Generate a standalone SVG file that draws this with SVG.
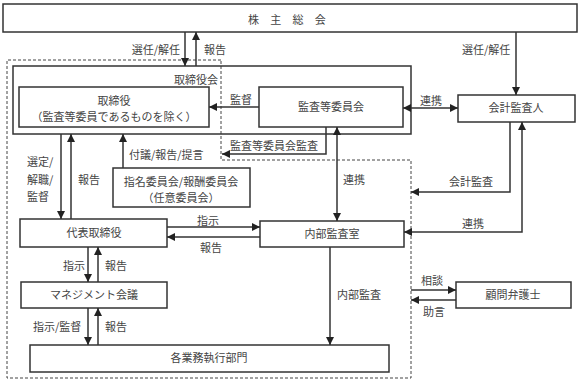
<svg xmlns="http://www.w3.org/2000/svg" width="582" height="385" viewBox="0 0 582 385">
<style>
.box{fill:#fff;stroke:#333;stroke-width:1.5}
.frame{fill:none;stroke:#333;stroke-width:1.5}
.dash{fill:none;stroke:#444;stroke-width:1;stroke-dasharray:3,2}
.ln{fill:none;stroke:#333;stroke-width:1.5}
text{font-family:"Noto Sans CJK JP","Liberation Sans",sans-serif;font-size:11px;fill:#444}
.m{text-anchor:middle}
.e{text-anchor:end}
</style>
<defs>
<marker id="ah" viewBox="0 0 8 8" refX="8" refY="4" markerWidth="8" markerHeight="8" markerUnits="userSpaceOnUse" orient="auto-start-reverse">
<path d="M0,0 L8,4 L0,8 z" fill="#222"/>
</marker>
</defs>
<rect width="582" height="385" fill="#fff"/>

<g id="outline">
<path class="dash" d="M221,60 L7,60 L7,378 L411,378 L411,160 L221,160 Z"/>
</g>

<g id="shareholders">
<rect class="box" x="3" y="4" width="574" height="28"/>
<text x="289" y="24" class="m" style="letter-spacing:4.4px" xml:space="preserve">株 主 総 会</text>
</g>

<g id="board">
<rect class="frame" x="13" y="66" width="398" height="68"/>
<text x="218" y="84" class="e">取締役会</text>
</g>

<g id="directors">
<rect class="box" x="19" y="87" width="190" height="40"/>
<text x="114" y="105" class="m">取締役</text>
<text x="114" y="121" class="m">（監査等委員であるものを除く）</text>
</g>

<g id="audit-committee">
<rect class="box" x="259" y="87" width="144" height="40"/>
<text x="331" y="111" class="m">監査等委員会</text>
</g>

<g id="accounting-auditor">
<rect class="box" x="458" y="95" width="117" height="27"/>
<text x="516" y="112" class="m">会計監査人</text>
</g>

<g id="committees">
<rect class="box" x="113" y="168" width="137" height="39"/>
<text x="181" y="186" class="m">指名委員会/報酬委員会</text>
<text x="181" y="202" class="m">（任意委員会）</text>
</g>

<g id="representative">
<rect class="box" x="20" y="219" width="147" height="28"/>
<text x="94" y="237" class="m">代表取締役</text>
</g>

<g id="internal-audit">
<rect class="box" x="260" y="221" width="144" height="26"/>
<text x="332" y="238" class="m">内部監査室</text>
</g>

<g id="management">
<rect class="box" x="21" y="282" width="146" height="26"/>
<text x="94" y="299" class="m">マネジメント会議</text>
</g>

<g id="divisions">
<rect class="box" x="30" y="345" width="359" height="27"/>
<text x="209" y="362" class="m">各業務執行部門</text>
</g>

<g id="lawyer">
<rect class="box" x="456" y="282" width="115" height="26"/>
<text x="513" y="299" class="m">顧問弁護士</text>
</g>

<g id="connectors">
<line class="ln" x1="185" y1="32" x2="185" y2="66" marker-end="url(#ah)"/>
<line class="ln" x1="196" y1="66" x2="196" y2="32" marker-end="url(#ah)"/>
<text x="180" y="54" class="e">選任/解任</text>
<text x="204" y="54">報告</text>

<line class="ln" x1="516" y1="32" x2="516" y2="95" marker-end="url(#ah)"/>
<text x="462" y="54">選任/解任</text>

<line class="ln" x1="259" y1="107" x2="209" y2="107" marker-end="url(#ah)"/>
<text x="230" y="104">監督</text>

<line class="ln" x1="403" y1="108" x2="458" y2="108" marker-start="url(#ah)" marker-end="url(#ah)"/>
<text x="431" y="105" class="m">連携</text>

<polyline class="ln" points="326,127 326,154 222,154" marker-end="url(#ah)"/>
<text x="230" y="150">監査等委員会監査</text>

<line class="ln" x1="337" y1="127" x2="337" y2="221" marker-start="url(#ah)" marker-end="url(#ah)"/>
<text x="343" y="184">連携</text>

<line class="ln" x1="123" y1="168" x2="123" y2="134" marker-end="url(#ah)"/>
<text x="129" y="159">付議/報告/提言</text>

<line class="ln" x1="61" y1="134" x2="61" y2="219" marker-end="url(#ah)"/>
<line class="ln" x1="71" y1="219" x2="71" y2="134" marker-end="url(#ah)"/>
<text x="27" y="166">選定/</text>
<text x="27" y="184">解職/</text>
<text x="27" y="201">監督</text>
<text x="78" y="184">報告</text>

<polyline class="ln" points="510,122 510,192 411,192" marker-end="url(#ah)"/>
<text x="471" y="186" class="m">会計監査</text>

<polyline class="ln" points="522,122 522,232 404,232" marker-start="url(#ah)" marker-end="url(#ah)"/>
<text x="473" y="228" class="m">連携</text>

<line class="ln" x1="167" y1="227" x2="260" y2="227" marker-end="url(#ah)"/>
<text x="208" y="225" class="m">指示</text>
<line class="ln" x1="260" y1="237" x2="167" y2="237" marker-end="url(#ah)"/>
<text x="211" y="252" class="m">報告</text>

<line class="ln" x1="88" y1="247" x2="88" y2="282" marker-end="url(#ah)"/>
<line class="ln" x1="98" y1="282" x2="98" y2="247" marker-end="url(#ah)"/>
<text x="63" y="270">指示</text>
<text x="105" y="270">報告</text>

<line class="ln" x1="88" y1="308" x2="88" y2="345" marker-end="url(#ah)"/>
<line class="ln" x1="98" y1="345" x2="98" y2="308" marker-end="url(#ah)"/>
<text x="33" y="331">指示/監督</text>
<text x="105" y="331">報告</text>

<line class="ln" x1="330" y1="247" x2="330" y2="345" marker-end="url(#ah)"/>
<text x="337" y="299">内部監査</text>

<line class="ln" x1="411" y1="290" x2="456" y2="290" marker-end="url(#ah)"/>
<text x="432" y="285" class="m">相談</text>
<line class="ln" x1="456" y1="300" x2="411" y2="300" marker-end="url(#ah)"/>
<text x="434" y="316" class="m">助言</text>
</g>
</svg>
